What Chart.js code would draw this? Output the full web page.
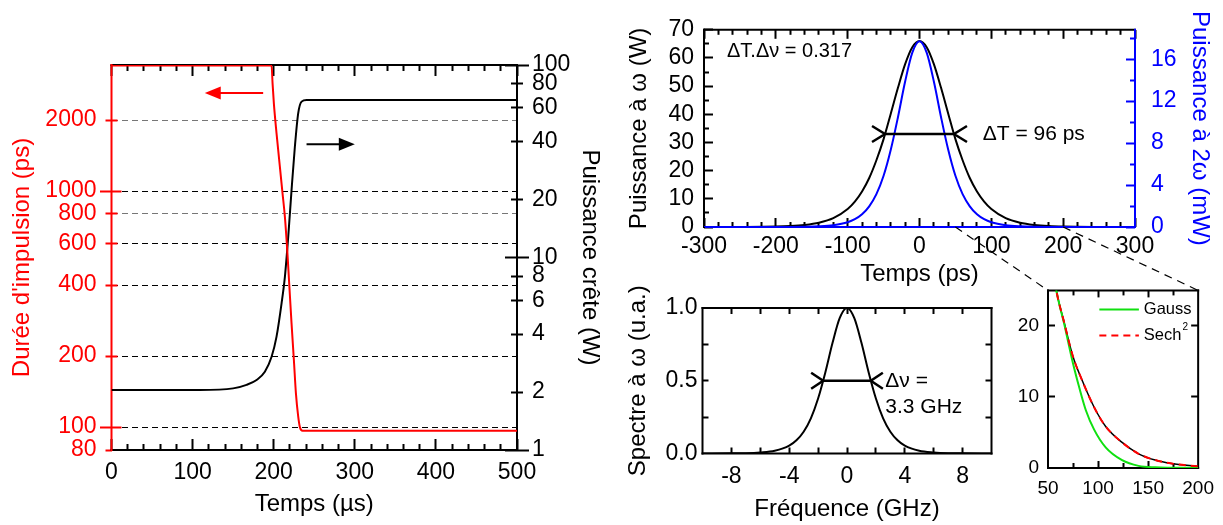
<!DOCTYPE html>
<html>
<head>
<meta charset="utf-8">
<script src="https://cdn.jsdelivr.net/npm/chart.js@4.4.1/dist/chart.umd.min.js"></script>
<style>
html, body { margin: 0; padding: 0; background: #fff; }
#page { position: relative; width: 1223px; height: 525px; overflow: hidden; }
#page canvas { position: absolute; }
</style>
</head>
<body>
<div id="page">
  <canvas id="c1" width="625" height="525" style="left:0;top:0"></canvas>
  <canvas id="c2" width="613" height="300" style="left:610px;top:0"></canvas>
  <canvas id="c3" width="400" height="245" style="left:610px;top:280px"></canvas>
  <canvas id="c4" width="223" height="255" style="left:1000px;top:270px"></canvas>
  <canvas id="over" width="1223" height="525" style="left:0;top:0;pointer-events:none"></canvas>
</div>
<script>
Chart.defaults.font.family = "'Liberation Sans', Arial, Helvetica, sans-serif";
Chart.defaults.color = '#000';

// Panneau gauche : durée d'impulsion et puissance crête en fonction du temps
const xTicksUs = [0, 100, 200, 300, 400, 500];
const pulseTicksPs = [80, 100, 200, 400, 600, 800, 1000, 2000];
const peakTicksW = [1, 2, 4, 6, 8, 10, 20, 40, 60, 80, 100];
const timeUsRed = [0, 100, 197.4, 198.6, 200.2, 203.5, 207.6, 210.9, 213.8, 216.7, 219.1, 222, 224.9, 227.4, 230.2, 232.3, 235.6, 300, 400, 500];
const pulsePs = [3400, 3400, 3400, 2860, 2353, 1756, 1268, 978, 778, 562, 406, 275, 192, 139, 111, 100, 96.5, 96.5, 96.5, 96.5];
const timeUsBlack = [0, 109, 150, 166.5, 178.9, 189.1, 197.4, 203.5, 209.7, 213.8, 217.9, 222, 226.1, 230.2, 234.4, 240.6, 300, 400, 500];
const peakW = [2.05, 2.05, 2.09, 2.18, 2.31, 2.55, 3.05, 3.88, 5.78, 7.94, 12.8, 22.4, 37.6, 56.1, 64.5, 65.8, 65.8, 65.8, 65.8];

// Impulsion temporelle (puissance à ω et à 2ω)
const xTicksPs = [-300, -200, -100, 0, 100, 200, 300];
const powerTicksW = [0, 10, 20, 30, 40, 50, 60, 70];
const shgTicksMw = [0, 4, 8, 12, 16];
const tPs = [-300, -250, -200, -180, -160, -140, -120, -100, -90, -80, -70, -60, -50, -40, -30, -20, -10, 0,
             10, 20, 30, 40, 50, 60, 70, 80, 90, 100, 120, 140, 160, 180, 200, 250, 300];
const powerW = [0, 0.03, 0.17, 0.35, 0.74, 1.53, 3.14, 6.38, 9.0, 12.6, 17.4, 23.7, 31.2, 40.2, 49.4, 57.8, 63.8, 66,
                63.8, 57.8, 49.4, 40.2, 31.2, 23.7, 17.4, 12.6, 9.0, 6.38, 3.14, 1.53, 0.74, 0.35, 0.17, 0.03, 0];
const shgMw = [0, 0, 0, 0.005, 0.02, 0.06, 0.17, 0.45, 0.74, 1.21, 1.97, 3.13, 4.88, 7.36, 10.47, 13.87, 16.62, 17.7,
               16.62, 13.87, 10.47, 7.36, 4.88, 3.13, 1.97, 1.21, 0.74, 0.45, 0.17, 0.06, 0.02, 0.005, 0, 0, 0];

// Spectre
const freqTicksGHz = [-8, -4, 0, 4, 8];
const specTicks = [0, 0.5, 1];
const freqGHz = [-10, -8, -7, -6, -5, -4, -3.5, -3, -2.5, -2, -1.5, -1, -0.5, 0, 0.5, 1, 1.5, 2, 2.5, 3, 3.5, 4, 5, 6, 7, 8, 10];
const spectrum = [0, 0.001, 0.002, 0.007, 0.019, 0.054, 0.091, 0.150, 0.242, 0.378, 0.557, 0.761, 0.932, 1,
                  0.932, 0.761, 0.557, 0.378, 0.242, 0.150, 0.091, 0.054, 0.019, 0.007, 0.002, 0.001, 0];

// Zoom sur le flanc de l'impulsion
const zoomTicksPs = [50, 100, 150, 200];
const zoomTicksW = [0, 10, 20];
const tZoomPs = [55, 58.3, 66.5, 74.7, 84.5, 96.1, 107.6, 124, 140.5, 157, 173.4, 200];
const measuredW = [28, 25, 20.3, 15.8, 12.2, 8.55, 5.85, 3.6, 2.0, 1.12, 0.63, 0.23];
const sechW = [28, 25, 20.3, 15.8, 12.2, 8.55, 5.85, 3.6, 2.0, 1.12, 0.63, 0.23];
const tGaussPs = [55, 58.3, 66.5, 74.7, 81.3, 87.9, 96.1, 107.6, 124, 140.5, 157, 200];
const gaussW = [28, 25, 20.1, 14.9, 11.3, 8.1, 5.4, 2.9, 1.1, 0.3, 0.1, 0];

function range(a, b, step) {
    const r = [];
    for (let v = a; v <= b + 1e-9; v += step) r.push(Math.round(v * 1000) / 1000);
    return r;
}
function minors(a, b, step, majors) {
    return range(a, b, step).filter(v => !majors.includes(v));
}
function setTicks(values) {
    return s => { s.ticks = values.map(v => ({ value: v })); };
}
function pts(xs, ys) {
    return xs.map((x, i) => ({ x: x, y: ys[i] }));
}
function serie(label, xs, ys, color, yAxisID, extra) {
    return Object.assign({
        label: label, data: pts(xs, ys), yAxisID: yAxisID,
        borderColor: color, borderWidth: 2, pointRadius: 0, fill: false,
        cubicInterpolationMode: 'monotone'
    }, extra || {});
}

// axe sans étiquettes ni épaisseur, collé au cadre, qui ne sert qu'à tracer des graduations
// len < 0 : graduation vers l'intérieur, len > 0 : vers l'extérieur
function tickAxis(position, type, min, max, values, len, color, width) {
    return {
        type: type, position: position, min: min, max: max, display: true, weight: 0,
        afterBuildTicks: setTicks(values),
        afterFit: s => { if (s.isHorizontal()) s.height = 0; else s.width = 0; },
        grid: { display: true, drawOnChartArea: false, drawTicks: true, tickLength: len, tickColor: color || '#000000', tickWidth: width || 2 },
        border: { display: false },
        ticks: { display: false }
    };
}

// cadre dessiné sous les courbes
function frame(sides) {
    return {
        id: 'frame',
        beforeDatasetsDraw(chart) {
            const { ctx, chartArea: a } = chart;
            ctx.save();
            ctx.setLineDash([]);
            ctx.lineWidth = 2;
            ctx.lineCap = 'square';
            [['top', a.left, a.top, a.right, a.top],
             ['bottom', a.left, a.bottom, a.right, a.bottom],
             ['right', a.right, a.top, a.right, a.bottom],
             ['left', a.left, a.top, a.left, a.bottom]].forEach(([k, x0, y0, x1, y1]) => {
                ctx.strokeStyle = (sides && sides[k]) || '#000';
                ctx.beginPath(); ctx.moveTo(x0, y0); ctx.lineTo(x1, y1); ctx.stroke();
            });
            ctx.restore();
        }
    };
}

function arrow(ctx, x0, x1, y, color) {
    const dir = Math.sign(x1 - x0);
    ctx.save();
    ctx.strokeStyle = color; ctx.fillStyle = color; ctx.lineWidth = 2;
    ctx.beginPath(); ctx.moveTo(x0, y); ctx.lineTo(x1 - dir * 12, y); ctx.stroke();
    ctx.beginPath(); ctx.moveTo(x1, y); ctx.lineTo(x1 - dir * 16, y - 6.5); ctx.lineTo(x1 - dir * 16, y + 6.5);
    ctx.closePath(); ctx.fill();
    ctx.restore();
}
function fwhm(ctx, xa, xb, y, arm, h) {
    ctx.save();
    ctx.strokeStyle = '#000'; ctx.lineWidth = 2.5;
    ctx.beginPath();
    ctx.moveTo(xa, y); ctx.lineTo(xb, y);
    ctx.moveTo(xa - arm, y - h); ctx.lineTo(xa, y); ctx.lineTo(xa - arm, y + h);
    ctx.moveTo(xb + arm, y - h); ctx.lineTo(xb, y); ctx.lineTo(xb + arm, y + h);
    ctx.stroke();
    ctx.restore();
}
function label(ctx, txt, x, y, size) {
    ctx.save();
    ctx.fillStyle = '#000';
    ctx.font = size + "px 'Liberation Sans', Arial, sans-serif";
    ctx.textAlign = 'left'; ctx.textBaseline = 'middle';
    ctx.fillText(txt, x, y);
    ctx.restore();
}

const noGrid = { display: false, drawTicks: false };
const noBorder = { display: false };
const red = '#ff0000', blue = '#0000ff';

// ---------- Graphique 1 : durée d'impulsion / puissance crête
const usMinor = minors(0, 500, 20, xTicksUs);
const dureeChart = new Chart(document.getElementById('c1'), {
    type: 'line',
    data: {
        datasets: [
            serie('Durée d\'impulsion', timeUsRed, pulsePs, red, 'yL', { order: 1 }),
            serie('Puissance crête', timeUsBlack, peakW, '#000000', 'yR', { order: 2 })
        ]
    },
    options: {
        responsive: false, animation: false, devicePixelRatio: 1,
        layout: { padding: { top: 65, left: 0, right: 0, bottom: 0 } },
        plugins: { legend: { display: false }, tooltip: { enabled: false } },
        scales: {
            x: {
                type: 'linear', position: 'bottom', min: 0, max: 500, weight: 5,
                afterBuildTicks: setTicks(xTicksUs), afterFit: s => { s.height = 75; },
                grid: noGrid, border: noBorder,
                ticks: { font: { size: 23 }, padding: 9, maxRotation: 0, autoSkip: false },
                title: { display: true, text: 'Temps (µs)', font: { size: 24 }, padding: { top: 0, bottom: 6 } }
            },
            xb1: tickAxis('bottom', 'linear', 0, 500, xTicksUs, -11),
            xb2: tickAxis('bottom', 'linear', 0, 500, usMinor, -6),
            xt1: tickAxis('top', 'linear', 0, 500, xTicksUs, -11),
            xt2: tickAxis('top', 'linear', 0, 500, usMinor, -6),
            yL: {
                type: 'logarithmic', position: 'left', min: 80, max: 3420, weight: 5,
                afterBuildTicks: setTicks(pulseTicksPs), afterFit: s => { s.width = 111.5; },
                grid: { drawTicks: false, lineWidth: 1, color: c => (c.tick && (c.tick.value === 2000 || c.tick.value === 800)) ? '#777777' : '#000000' },
                border: { display: false, dash: [6, 4] },
                ticks: { color: red, font: { size: 23 }, padding: 15, autoSkip: false, callback: v => String(v) },
                title: { display: true, text: 'Durée d\'impulsion (ps)', color: red, font: { size: 24 }, padding: { top: 8 } }
            },
            yl1: tickAxis('left', 'logarithmic', 80, 3420, [100, 1000], -10, red),
            yl2: tickAxis('left', 'logarithmic', 80, 3420, [100, 1000], 11.5, red),
            yl3: tickAxis('left', 'logarithmic', 80, 3420, [200, 400, 600, 800, 2000], -6, red),
            yl4: tickAxis('left', 'logarithmic', 80, 3420, [80, 200, 400, 600, 800, 2000], 6, red),
            yR: {
                type: 'logarithmic', position: 'right', min: 1, max: 100, weight: 5,
                afterBuildTicks: setTicks(peakTicksW), afterFit: s => { s.width = 108; },
                grid: noGrid, border: noBorder,
                ticks: { font: { size: 23 }, padding: 15, autoSkip: false, callback: v => String(v) },
                title: { display: true, text: 'Puissance crête (W)', font: { size: 24 }, padding: { top: 21 } }
            },
            yr1: tickAxis('right', 'logarithmic', 1, 100, [1, 10, 100], -12),
            yr2: tickAxis('right', 'logarithmic', 1, 100, [1, 10, 100], 12),
            yr3: tickAxis('right', 'logarithmic', 1, 100, [2, 4, 6, 8, 20, 40, 60, 80], -6),
            yr4: tickAxis('right', 'logarithmic', 1, 100, [2, 4, 6, 8, 20, 40, 60, 80], 6)
        }
    },
    plugins: [
        frame({ left: red }),
        {
            id: 'fleches',
            afterDatasetsDraw(chart) {
                const { ctx, scales } = chart;
                arrow(ctx, scales.x.getPixelForValue(187), scales.x.getPixelForValue(115), scales.yL.getPixelForValue(2600), red);
                arrow(ctx, scales.x.getPixelForValue(240.5), scales.x.getPixelForValue(300), scales.yR.getPixelForValue(38.7), '#000000');
            }
        }
    ]
});

// ---------- Graphique 2 : impulsion temporelle
const psMinor = minors(-300, 300, 20, xTicksPs);
const wMinor = minors(0, 70, 5, powerTicksW);
const impulsionChart = new Chart(document.getElementById('c2'), {
    type: 'line',
    data: {
        datasets: [
            serie('Puissance à 2ω', tPs, shgMw, blue, 'y2', { order: 1 }),
            serie('Puissance à ω', tPs, powerW, '#000000', 'y', { order: 2 })
        ]
    },
    options: {
        responsive: false, animation: false, devicePixelRatio: 1,
        layout: { padding: { top: 19, left: 0, right: 0, bottom: 0 } },
        plugins: { legend: { display: false }, tooltip: { enabled: false } },
        scales: {
            x: {
                type: 'linear', position: 'bottom', min: -300, max: 300, weight: 5,
                afterBuildTicks: setTicks(xTicksPs), afterFit: s => { s.height = 73; },
                grid: noGrid, border: noBorder,
                ticks: { font: { size: 23 }, padding: 6, maxRotation: 0, autoSkip: false },
                title: { display: true, text: 'Temps (ps)', font: { size: 24 }, padding: { top: 0, bottom: 11 } }
            },
            xb1: tickAxis('bottom', 'linear', -300, 300, xTicksPs, -9),
            xb2: tickAxis('bottom', 'linear', -300, 300, psMinor, -5),
            xt1: tickAxis('top', 'linear', -300, 300, xTicksPs, -9),
            xt2: tickAxis('top', 'linear', -300, 300, psMinor, -5),
            y: {
                type: 'linear', position: 'left', min: 0, max: 70, weight: 5,
                afterBuildTicks: setTicks(powerTicksW), afterFit: s => { s.width = 94; },
                grid: noGrid, border: noBorder,
                ticks: { font: { size: 23 }, padding: 10, autoSkip: false },
                title: { display: true, text: 'Puissance à ω (W)', font: { size: 24 }, padding: { top: 15 } }
            },
            yl1: tickAxis('left', 'linear', 0, 70, powerTicksW, -9),
            yl2: tickAxis('left', 'linear', 0, 70, wMinor, -5),
            y2: {
                type: 'linear', position: 'right', min: 0, max: 18.8, weight: 5,
                afterBuildTicks: setTicks(shgTicksMw), afterFit: s => { s.width = 88; },
                grid: noGrid, border: noBorder,
                ticks: { color: blue, font: { size: 23 }, padding: 16, autoSkip: false },
                title: { display: true, text: 'Puissance à 2ω (mW)', color: blue, font: { size: 24 }, padding: { top: 9 } }
            },
            yr1: tickAxis('right', 'linear', 0, 18.8, shgTicksMw, -9, blue),
            yr2: tickAxis('right', 'linear', 0, 18.8, [2, 6, 10, 14, 18], -5, blue)
        }
    },
    plugins: [
        frame({ right: blue, bottom: blue }),
        {
            id: 'annotations',
            afterDatasetsDraw(chart) {
                const { ctx, scales } = chart;
                const x = scales.x, y = scales.y;
                fwhm(ctx, x.getPixelForValue(-48), x.getPixelForValue(48), y.getPixelForValue(33), 13, 8);
                label(ctx, 'ΔT.Δν = 0.317', x.getPixelForValue(-268), y.getPixelForValue(62.3), 20);
                label(ctx, 'ΔT = 96 ps', x.getPixelForValue(88), y.getPixelForValue(33), 21);
            }
        }
    ]
});

// ---------- Graphique 3 : spectre
const ghzAll = range(-8, 8, 2);
const specMarks = [0.25, 0.5, 0.75];
const spectreChart = new Chart(document.getElementById('c3'), {
    type: 'line',
    data: {
        datasets: [serie('Spectre', freqGHz, spectrum, '#000000', 'y')]
    },
    options: {
        responsive: false, animation: false, devicePixelRatio: 1,
        layout: { padding: { top: 28, left: 0, right: 18.5, bottom: 0 } },
        plugins: { legend: { display: false }, tooltip: { enabled: false } },
        scales: {
            x: {
                type: 'linear', position: 'bottom', min: -10, max: 10, weight: 5,
                afterBuildTicks: setTicks(freqTicksGHz), afterFit: s => { s.height = 71.5; },
                grid: noGrid, border: noBorder,
                ticks: { font: { size: 23 }, padding: 9, maxRotation: 0, autoSkip: false },
                title: { display: true, text: 'Fréquence (GHz)', font: { size: 24 }, padding: { top: 0, bottom: 1 } }
            },
            xb1: tickAxis('bottom', 'linear', -10, 10, ghzAll, -6),
            xt1: tickAxis('top', 'linear', -10, 10, ghzAll, -6),
            y: {
                type: 'linear', position: 'left', min: 0, max: 1, weight: 5,
                afterBuildTicks: setTicks(specTicks), afterFit: s => { s.width = 92.5; },
                grid: noGrid, border: noBorder,
                ticks: { font: { size: 23 }, padding: 5, autoSkip: false, callback: v => v.toFixed(1) },
                title: { display: true, text: 'Spectre à ω (u.a.)', font: { size: 24 }, padding: { top: 14 } }
            },
            yl1: tickAxis('left', 'linear', 0, 1, specMarks, -6),
            yr1: tickAxis('right', 'linear', 0, 1, specMarks, -6)
        }
    },
    plugins: [
        frame(),
        {
            id: 'largeur',
            afterDatasetsDraw(chart) {
                const { ctx, scales } = chart;
                const x = scales.x, y = scales.y;
                fwhm(ctx, x.getPixelForValue(-1.65), x.getPixelForValue(1.65), y.getPixelForValue(0.5), 12, 8);
                label(ctx, 'Δν =', x.getPixelForValue(2.65), y.getPixelForValue(0.5), 21);
                label(ctx, '3.3 GHz', x.getPixelForValue(2.65), y.getPixelForValue(0.32), 21);
            }
        }
    ]
});

// ---------- Graphique 4 : zoom sur le flanc
const zoomChart = new Chart(document.getElementById('c4'), {
    type: 'line',
    data: {
        datasets: [
            serie('Sech', tZoomPs, sechW, red, 'y', { borderDash: [7, 5], order: 1 }),
            serie('Gauss', tGaussPs, gaussW, '#10e010', 'y', { order: 2 }),
            serie('Mesure', tZoomPs, measuredW, '#000000', 'y', { borderWidth: 1.5, order: 3 })
        ]
    },
    options: {
        responsive: false, animation: false, devicePixelRatio: 1,
        layout: { padding: { top: 13, left: 0, right: 23, bottom: 0 } },
        plugins: { legend: { display: false }, tooltip: { enabled: false } },
        scales: {
            x: {
                type: 'linear', position: 'bottom', min: 50, max: 200, weight: 5,
                afterBuildTicks: setTicks(zoomTicksPs), afterFit: s => { s.height = 57; },
                grid: noGrid, border: noBorder,
                ticks: { font: { size: 19 }, padding: 9, maxRotation: 0, autoSkip: false }
            },
            xb1: tickAxis('bottom', 'linear', 50, 200, [100, 150], -7),
            xb2: tickAxis('bottom', 'linear', 50, 200, [75, 125, 175], -5),
            xt1: tickAxis('top', 'linear', 50, 200, [100, 150], -7),
            xt2: tickAxis('top', 'linear', 50, 200, [75, 125, 175], -5),
            y: {
                type: 'linear', position: 'left', min: 0, max: 25, weight: 5,
                afterBuildTicks: setTicks(zoomTicksW), afterFit: s => { s.width = 48; },
                grid: noGrid, border: noBorder,
                ticks: { font: { size: 19 }, padding: 9, autoSkip: false }
            },
            yl1: tickAxis('left', 'linear', 0, 25, [10, 20], -7),
            yr1: tickAxis('right', 'linear', 0, 25, [10, 20], -7)
        }
    },
    plugins: [
        frame(),
        {
            id: 'legende',
            afterDatasetsDraw(chart) {
                const { ctx, scales } = chart;
                const x = scales.x, y = scales.y;
                [[1, 22.3], [0, 18.65]].forEach(([i, v]) => {
                    const ds = chart.data.datasets[i];
                    const py = y.getPixelForValue(v);
                    const tx = x.getPixelForValue(145.7);
                    ctx.save();
                    ctx.strokeStyle = ds.borderColor; ctx.lineWidth = 2;
                    ctx.setLineDash(ds.borderDash || []);
                    ctx.beginPath();
                    ctx.moveTo(x.getPixelForValue(101.3), py); ctx.lineTo(x.getPixelForValue(140.8), py);
                    ctx.stroke();
                    ctx.restore();
                    label(ctx, ds.label, tx, py, 16.5);
                    if (i === 0) {
                        // exposant du Sech²
                        ctx.save();
                        ctx.font = "16.5px 'Liberation Sans', Arial, sans-serif";
                        const wd = ctx.measureText(ds.label).width;
                        ctx.font = "10px 'Liberation Sans', Arial, sans-serif";
                        ctx.fillStyle = '#000';
                        ctx.textBaseline = 'middle';
                        ctx.fillText('2', tx + wd + 1, py - 8);
                        ctx.restore();
                    }
                });
            }
        }
    ]
});

// traits pointillés reliant l'impulsion au zoom
const over = document.getElementById('over').getContext('2d');
over.save();
over.strokeStyle = '#000';
over.lineWidth = 1.2;
over.setLineDash([8, 6]);
[50, 200].forEach(t => {
    over.beginPath();
    over.moveTo(610 + impulsionChart.scales.x.getPixelForValue(t), impulsionChart.scales.y.getPixelForValue(0));
    over.lineTo(1000 + zoomChart.scales.x.getPixelForValue(t), 270 + zoomChart.scales.y.getPixelForValue(25));
    over.stroke();
});
over.restore();
</script>
</body>
</html>
